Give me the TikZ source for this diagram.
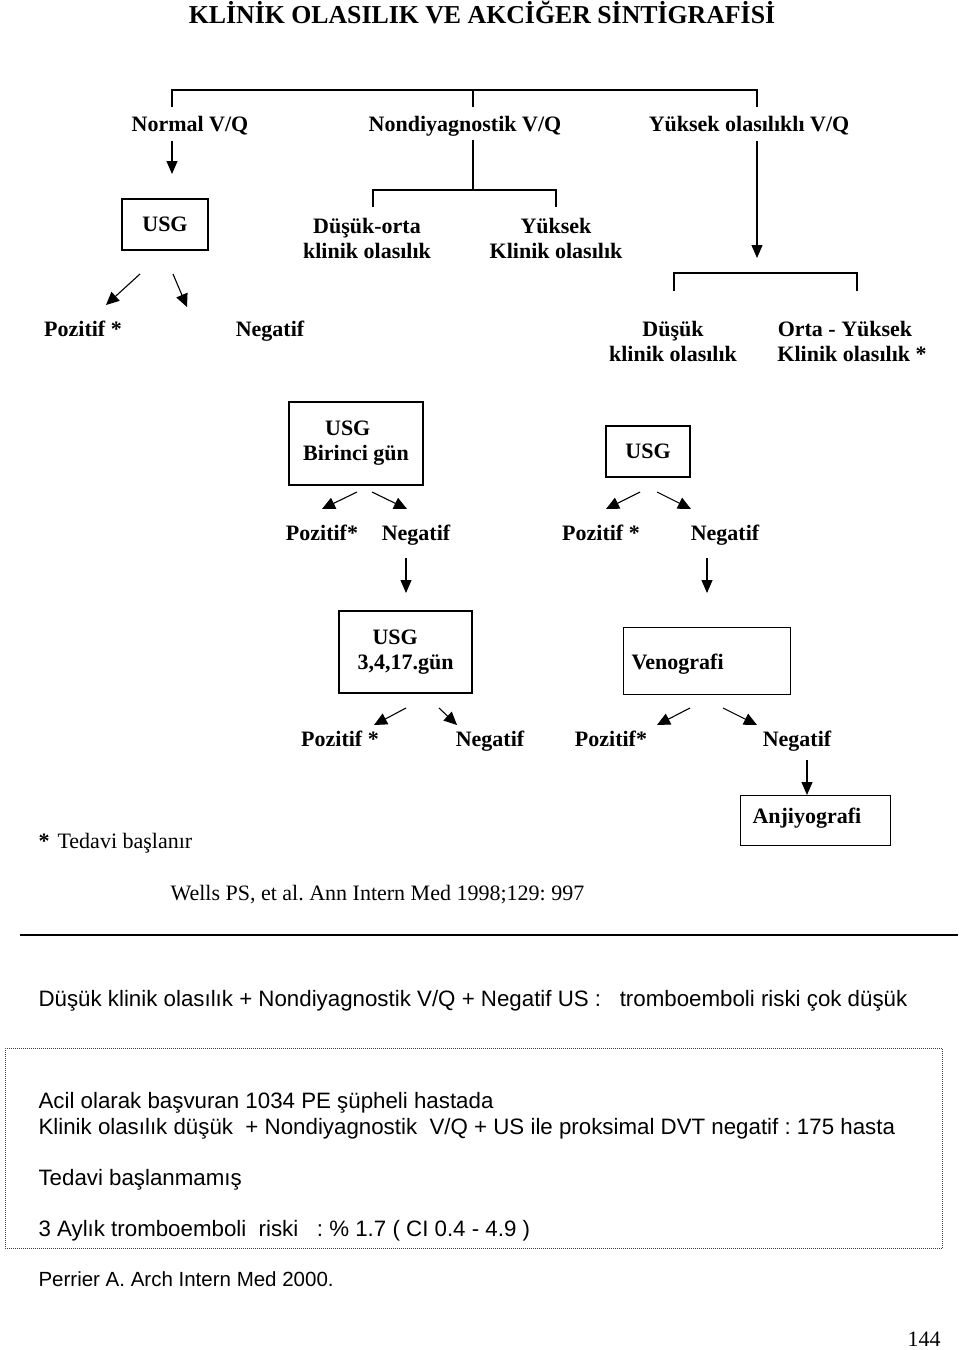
\documentclass[tikz,border=0pt]{standalone}
\usepackage{fontspec}
\setmainfont{Liberation Serif}
\setsansfont{Liberation Sans}
\usetikzlibrary{arrows.meta}
\begin{document}
\frenchspacing
\begin{tikzpicture}[x=1pt,y=-1pt, line width=1.1pt,
  lbl/.style={font=\bfseries\fontsize{22}{25}\selectfont, inner sep=0pt, align=center},
  bl/.style={lbl, anchor=base},
  ttl/.style={font=\bfseries\fontsize{25.8}{28}\selectfont, inner sep=0pt, anchor=base},
  txt/.style={font=\fontsize{22}{25}\selectfont, inner sep=0pt, anchor=base west},
  sans/.style={font=\sffamily\fontsize{22.3}{26}\selectfont, inner sep=0pt, anchor=base west},
  box/.style={draw, line width=1.1pt, inner sep=0pt},
  arr/.style={-{Triangle[length=13pt,width=11pt]}},
  sarr/.style={-{Triangle[length=13pt,width=12pt]}},
]
\useasboundingbox (0,0) rectangle (960,1350);
\fill[white] (0,0) rectangle (960,1350);

% title
\node[ttl] (title) at (482,23) {KLİNİK OLASILIK VE AKCİĞER SİNTİGRAFİSİ};

% top bracket
\coordinate (b1l) at (172,107);
\coordinate (b1c) at (473,107);
\coordinate (b1r) at (757,107);
\draw (b1l) -- (172,90) -- (757,90) -- (b1r);
\draw (473,90) -- (b1c);

\node[bl] (normal) at (190,131) {Normal V/Q};
\node[bl] (nondiag) at (465,131) {Nondiyagnostik V/Q};
\node[bl] (yuksekvq) at (749,131) {Yüksek olasılıklı V/Q};

% normal -> USG
\coordinate (n1) at (172,141);
\coordinate (n2) at (172,174);
\draw[arr] (n1) -- (n2);
\node[box, lbl, minimum width=86pt, minimum height=51pt] (usg1) at (165,224.5) {USG};

% nondiag branch
\coordinate (nd1) at (473,140);
\coordinate (ndl) at (373,207);
\coordinate (ndr) at (556,207);
\draw (nd1) -- (473,190);
\draw (ndl) -- (373,190) -- (556,190) -- (ndr);
\node[bl] (dusukorta) at (367,233) {Düşük-orta};
\node[bl] (dusukorta2) at (367,258) {klinik olasılık};
\node[bl] (yuksekkl) at (556,233) {Yüksek};
\node[bl] (yuksekkl2) at (556,258) {Klinik olasılık};

% yuksek olasilikli arrow
\coordinate (y1) at (757,141);
\coordinate (y2) at (757,258);
\draw[arr] (y1) -- (y2);

% second bracket
\coordinate (b2l) at (674,291);
\coordinate (b2r) at (857,291);
\draw (b2l) -- (674,273) -- (857,273) -- (b2r);

% USG arrows
\coordinate (u1s) at (140,274);
\coordinate (u1e) at (106,305);
\coordinate (u2s) at (173,274);
\coordinate (u2e) at (187,307);
\draw[sarr] (u1s) -- (u1e);
\draw[sarr] (u2s) -- (u2e);

\node[bl] (poz1) at (83,336) {Pozitif *};
\node[bl] (neg1) at (270,336) {Negatif};
\node[bl] (dusuk) at (673,336) {Düşük};
\node[bl] (dusuk2) at (673,361) {klinik olasılık};
\node[bl] (ortayuk) at (845,336) {Orta - Yüksek};
\node[bl] (ortayuk2) at (852,361) {Klinik olasılık *};

% USG Birinci gun box
\node[box, lbl, align=left, minimum width=134pt, minimum height=83pt] (usgb) at (356,443.5) {\hspace*{22pt}USG\\Birinci gün};
\node[box, lbl, minimum width=84pt, minimum height=51pt] (usg2) at (648,451.5) {USG};

\coordinate (a1s) at (357,492);
\coordinate (a1e) at (322,509);
\coordinate (a2s) at (372,492);
\coordinate (a2e) at (407,509);
\coordinate (a3s) at (640,492);
\coordinate (a3e) at (606,509);
\coordinate (a4s) at (657,492);
\coordinate (a4e) at (691,509);
\draw[sarr] (a1s) -- (a1e);
\draw[sarr] (a2s) -- (a2e);
\draw[sarr] (a3s) -- (a3e);
\draw[sarr] (a4s) -- (a4e);

\node[bl] (poz2) at (322,540) {Pozitif*};
\node[bl] (neg2) at (416,540) {Negatif};
\node[bl] (poz3) at (601,540) {Pozitif *};
\node[bl] (neg3) at (725,540) {Negatif};

\coordinate (d1s) at (406,558);
\coordinate (d1e) at (406,593);
\coordinate (d2s) at (707,558);
\coordinate (d2e) at (707,593);
\draw[arr] (d1s) -- (d1e);
\draw[arr] (d2s) -- (d2e);

% USG 3,4,17 box
\node[box, lbl, align=left, minimum width=133pt, minimum height=82pt] (usg3) at (405.5,652) {\hspace*{15pt}USG\\3,4,17.gün};
% Venografi
\node[box, minimum width=167pt, minimum height=67pt, anchor=north west] (veno) at (623,627) {};
\node[lbl, anchor=base west] (venot) at (631,669) {Venografi};

\coordinate (c1s) at (406,708);
\coordinate (c1e) at (374,725);
\coordinate (c2s) at (439,708);
\coordinate (c2e) at (457,725);
\coordinate (c3s) at (690,708);
\coordinate (c3e) at (657,725);
\coordinate (c4s) at (723,708);
\coordinate (c4e) at (757,725);
\draw[sarr] (c1s) -- (c1e);
\draw[sarr] (c2s) -- (c2e);
\draw[sarr] (c3s) -- (c3e);
\draw[sarr] (c4s) -- (c4e);

\node[bl] (poz4) at (340,746) {Pozitif *};
\node[bl] (neg4) at (490,746) {Negatif};
\node[bl] (poz5) at (611,746) {Pozitif*};
\node[bl] (neg5) at (797,746) {Negatif};

\coordinate (e1s) at (807,760);
\coordinate (e1e) at (807,795);
\draw[arr] (e1s) -- (e1e);

\node[box, minimum width=150pt, minimum height=50pt, anchor=north west] (anji) at (740,795) {};
\node[lbl, anchor=base west] (anjit) at (752,823) {Anjiyografi};

\node[txt] (tedavi) at (38,848) {\textbf{*}\hspace{8pt}Tedavi başlanır};
\node[txt] (wells) at (170,900) {Wells PS, et al. Ann Intern Med 1998;129: 997};

% rule
\coordinate (r1) at (20,935);
\coordinate (r2) at (958,935);
\draw[line width=1.3pt] (r1) -- (r2);

\node[sans] (summary) at (38,1006) {Düşük klinik olasılık + Nondiyagnostik V/Q + Negatif US :\ \ \ tromboemboli riski çok düşük};

% dotted box
\node[draw=black!75, line width=0.9pt, dash pattern=on 0.9pt off 1.1pt, minimum width=937pt, minimum height=200pt, anchor=north west, inner sep=0pt] (dotbox) at (5,1048) {};

\node[sans] (l1) at (38,1108) {Acil olarak başvuran 1034 PE şüpheli hastada};
\node[sans] (l2) at (38,1134) {Klinik olasılık düşük\ \ + Nondiyagnostik\ \ V/Q + US ile proksimal DVT negatif : 175 hasta};
\node[sans] (l3) at (38,1185) {Tedavi başlanmamış};
\node[sans] (l4) at (38,1236) {3 Aylık tromboemboli\ \ riski\ \ \ : \% 1.7 ( CI 0.4 - 4.9 )};
\node[sans, font=\sffamily\fontsize{20.5}{24}\selectfont] (perrier) at (38,1286) {Perrier A. Arch Intern Med 2000.};

\node[txt] (page) at (907,1346) {144};
\end{tikzpicture}
\end{document}
